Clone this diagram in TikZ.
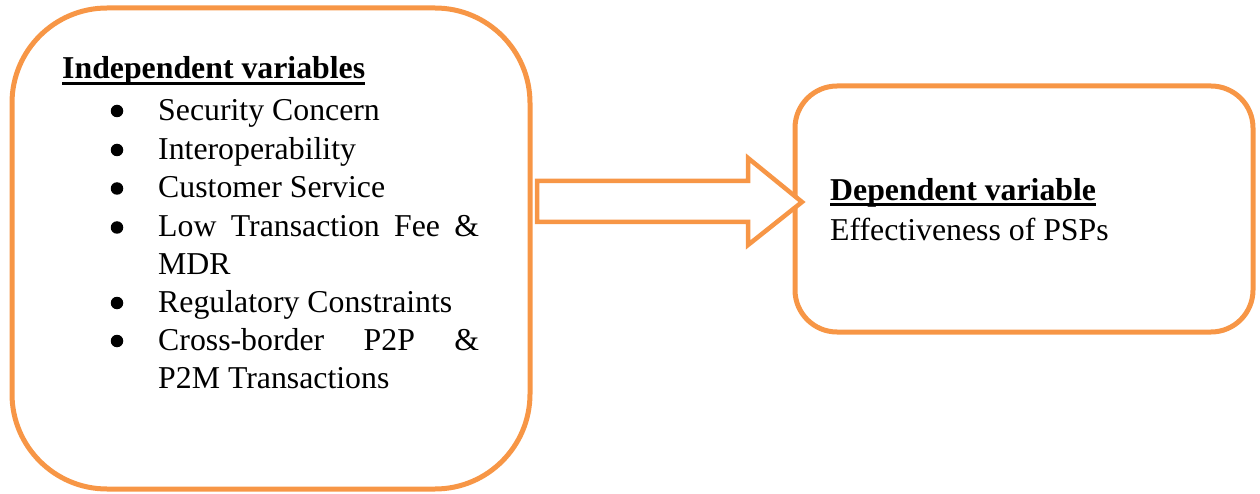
\documentclass[tikz,border=0pt]{standalone}
\usepackage{fontspec}
\setmainfont{Liberation Serif}
\definecolor{accent}{HTML}{F79646}
\begin{document}
\begin{tikzpicture}[x=1pt,y=-1pt,
  frame/.style={draw=accent, line width=5pt, rectangle, inner sep=0pt},
  txt/.style={anchor=base west, inner sep=0pt, font=\fontsize{31.8}{38}\selectfont},
  head/.style={anchor=base west, inner sep=0pt, font=\fontsize{31.8}{38}\selectfont\bfseries},
  dot/.style={circle, fill=black, inner sep=0pt, minimum size=12.5pt},
  uline/.style={line width=3pt},
  blockarrow/.style={draw=accent, line width=4.5pt, line join=miter, fill=white}]
\useasboundingbox (0,0) rectangle (1260,494);

% two rounded frames
\node[frame, rounded corners=95pt, minimum width=518pt, minimum height=481pt] (ind) at (271,248.5) {};
\node[frame, rounded corners=42pt, minimum width=458pt, minimum height=246pt] (dep) at (1024,209) {};

% block arrow from the left frame to the right frame
\coordinate (tail) at (537,201.5);
\coordinate (tip) at (802,202);
\draw[blockarrow] (tail) ++(0,-20.5) -- (748,181) -- (748,158) -- (tip)
  -- (748,245) -- (748,222) -- (537,222) -- cycle;

% left frame: heading and list
\node[head] (h1) at (62,79) {Independent variables};
\draw[uline] ([yshift=-4.5pt]h1.base west) -- ([yshift=-4.5pt]h1.base east);

\node[txt] (i1) at (158,120.5) {Security Concern};
\node[txt] (i2) at (158,159.5) {Interoperability};
\node[txt] (i3) at (158,198) {Customer Service};
\node[txt] (i4) at (158,237) {\makebox[321pt][s]{Low Transaction Fee \&}};
\node[txt] (i4b) at (158,275) {MDR};
\node[txt] (i5) at (158,312.5) {Regulatory Constraints};
\node[txt] (i6) at (158,350.5) {\makebox[321pt][s]{Cross-border P2P \&}};
\node[txt] (i6b) at (158,388.5) {P2M Transactions};

\foreach \b in {120.5,159.5,198,237,312.5,350.5}
  \node[dot] at (117,\b-9.5) {};

% right frame: heading and outcome
\node[head] (h2) at (830,200.5) {Dependent variable};
\draw[uline] ([yshift=-4.5pt]h2.base west) -- ([yshift=-4.5pt]h2.base east);
\node[txt] (o1) at (830,240.5) {Effectiveness of PSPs};
\end{tikzpicture}
\end{document}
